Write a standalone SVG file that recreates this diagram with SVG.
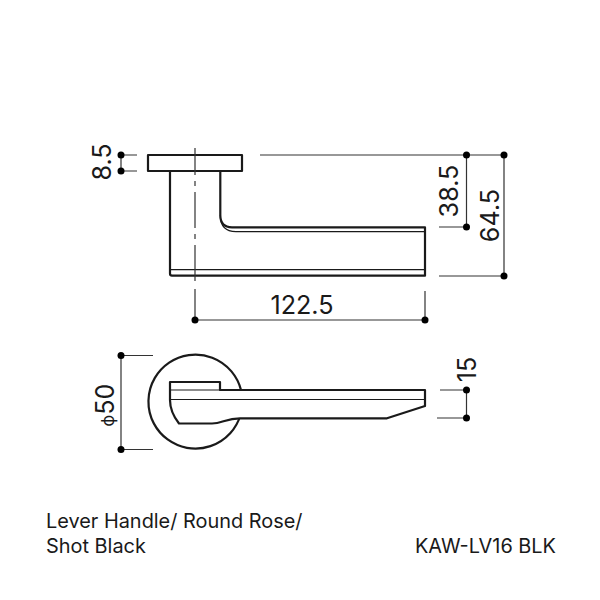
<svg xmlns="http://www.w3.org/2000/svg" width="600" height="600" viewBox="0 0 600 600">
<style>
.o{fill:none;stroke:#1a1a1a;stroke-width:2.2;stroke-linejoin:round}
.t{fill:none;stroke:#1a1a1a;stroke-width:1.2}
.d{fill:none;stroke:#333;stroke-width:1.2}
.c{fill:none;stroke:#333;stroke-width:1.2;stroke-dasharray:36 6 5 6;stroke-dashoffset:9}
.p{fill:#000}
text{font-family:Inter,"Liberation Sans",Arial,sans-serif;fill:#1a1a1a}
.m{font-size:25.2px;text-anchor:middle}
.l{font-size:19.9px}
</style>
<rect width="600" height="600" fill="#fff"/>
<g id="side-view">
<rect class="o" x="148" y="155" width="94" height="16"/>
<path class="o" d="M170 171V273.500Q170 275.700 172 275.700H425V227.300H232Q220.300 227.300 220.300 215V171"/>
<path class="t" d="M170 269.700H425M220.300 215Q220.300 231.700 236 231.700H425"/>
</g>
<g id="plan-view">
<path class="o" d="M241 390A47 47 0 1 0 240.500 415"/>
<path d="M170 382H220V390H425V406L387 418.300H240C226 418.300 222 423.500 212 423.500H179Q170 412 170 400Z" fill="#fff" stroke="#1a1a1a" stroke-width="2.2" stroke-linejoin="round"/>
<path class="t" d="M170 390H220M170 399.500H425"/>
</g>
<g id="connectors">
<path class="c" d="M195 148V281"/>
<path class="d" d="M121 155H137M121 171H137M121 155V171"/>
<path class="d" d="M260 155H504M466.500 155V227M504 155V276M439 227H466.500M439 276H504"/>
<path class="d" d="M195 289V320H425M425 291V320"/>
<path class="d" d="M121 355.500H153M121 449.500H153M121 355.500V449.500"/>
<path class="d" d="M440 390H466.500M437 418H466.500M466.500 390V418"/>
<g class="p">
<circle cx="121" cy="155" r="3.500"/><circle cx="121" cy="171" r="3.500"/>
<circle cx="466.500" cy="155" r="3.500"/><circle cx="504" cy="155" r="3.500"/>
<circle cx="466.500" cy="227" r="3.500"/><circle cx="504" cy="276" r="3.500"/>
<circle cx="195" cy="320" r="3.500"/><circle cx="425" cy="320" r="3.500"/>
<circle cx="121" cy="355.500" r="3.500"/><circle cx="121" cy="449.500" r="3.500"/>
<circle cx="466.500" cy="390" r="3.500"/><circle cx="466.500" cy="418" r="3.500"/>
</g>
</g>
<g id="labels">
<text class="m" transform="translate(111 162) rotate(-90)">8.5</text>
<text class="m" transform="translate(458 191) rotate(-90)">38.5</text>
<text class="m" transform="translate(499 215.500) rotate(-90)">64.5</text>
<text class="m" x="302" y="314">122.5</text>
<text class="m" transform="translate(114 405) rotate(-90)"><tspan font-size="17">ϕ</tspan>50</text>
<text class="m" transform="translate(476 369.500) rotate(-90)">15</text>
<text class="l" x="46" y="528">Lever Handle/ Round Rose/</text>
<text class="l" x="46" y="552.500">Shot Black</text>
<text class="l" x="415" y="552.500">KAW-LV16 BLK</text>
</g>
</svg>
